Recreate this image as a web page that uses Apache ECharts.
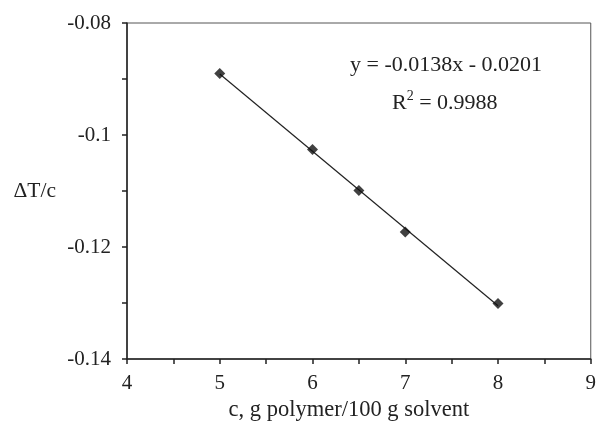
<!DOCTYPE html>
<html lang="en">
<head>
    <meta charset="UTF-8"/>
    <title>dT/c vs c</title>
    <script src="https://cdn.jsdelivr.net/npm/echarts@6/dist/echarts.min.js"></script>
    <style>
        html, body { margin: 0; padding: 0; background: #fff; }
        #main { width: 599px; height: 431px; }
    </style>
</head>
<body>
<div id="main"></div>
<script>
    // measured points
    var concX = [5, 6, 6.5, 7, 8];
    var dtOverC = [-0.0890, -0.1026, -0.1099, -0.1173, -0.1301];
    // trendline ends
    var trendX = [5, 8];
    var trendY = [-0.0891, -0.1305];
    // labelled ticks
    var xTickLabels = [4, 5, 6, 7, 8, 9];
    var yTickLabels = [-0.08, -0.1, -0.12, -0.14];

    var font = 'Liberation Serif';

    function pairs(xs, ys) {
        var out = [];
        for (var i = 0; i < xs.length; i++) out.push([xs[i], ys[i]]);
        return out;
    }
    function near(v, list) {
        for (var i = 0; i < list.length; i++) {
            if (Math.abs(v - list[i]) < 1e-6) return true;
        }
        return false;
    }

    var myChart = echarts.init(document.getElementById('main'));
    myChart.setOption({
        animation: false,
        grid: {
            left: 127, right: 4, top: 23, bottom: 72,
            show: true,
            borderColor: '#555',
            borderWidth: 1
        },
        xAxis: {
            type: 'value',
            min: 4, max: 9, interval: 0.5,
            name: 'c, g polymer/100 g solvent',
            nameLocation: 'middle',
            nameGap: 33,
            nameTextStyle: { fontFamily: font, fontSize: 22.5, color: '#222', padding: [0, 20, 0, 0] },
            axisLine: { lineStyle: { color: '#222', width: 1.5 } },
            axisTick: { inside: false, length: 5, lineStyle: { color: '#222', width: 1.5 } },
            axisLabel: {
                fontFamily: font, fontSize: 21, color: '#222', margin: 14,
                formatter: function (v) { return near(v, xTickLabels) ? String(v) : ''; }
            },
            splitLine: { show: false }
        },
        yAxis: {
            type: 'value',
            min: -0.14, max: -0.08, interval: 0.01,
            name: 'ΔT/c',
            nameLocation: 'middle',
            nameRotate: 0,
            nameGap: 71,
            nameTextStyle: { fontFamily: font, fontSize: 21.5, color: '#222', padding: [0, 0, 16, 0] },
            axisLine: { lineStyle: { color: '#222', width: 1.5 } },
            axisTick: { inside: false, length: 5, lineStyle: { color: '#222', width: 1.5 } },
            axisLabel: {
                fontFamily: font, fontSize: 21, color: '#222', margin: 16,
                formatter: function (v) {
                    var r = Math.round(v * 100) / 100;
                    return near(r, yTickLabels) ? String(r) : '';
                }
            },
            splitLine: { show: false }
        },
        series: [{
            // linear trendline
            type: 'line',
            data: pairs(trendX, trendY),
            showSymbol: false,
            symbol: 'none',
            lineStyle: { color: '#222', width: 1.2 },
            z: 2
        }, {
            type: 'scatter',
            data: pairs(concX, dtOverC),
            symbol: 'diamond',
            symbolSize: 11,
            itemStyle: { color: '#111' },
            z: 3
        }],
        graphic: [{
            type: 'text',
            left: 350, top: 54,
            style: { text: 'y = -0.0138x - 0.0201', fontFamily: font, fontSize: 22, fill: '#222' }
        }, {
            type: 'text',
            left: 392, top: 89,
            style: {
                text: '{b|R}{s|2}{b| = 0.9988}',
                rich: {
                    b: { fontFamily: font, fontSize: 22, fill: '#222', color: '#222' },
                    s: { fontFamily: font, fontSize: 14, fill: '#222', color: '#222', verticalAlign: 'top', padding: [0, 0, 14, 0] }
                }
            }
        }]
    });
</script>
</body>
</html>
